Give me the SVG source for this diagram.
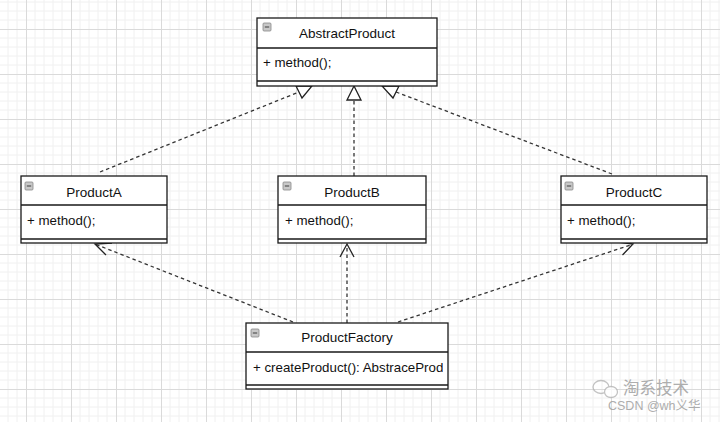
<svg xmlns="http://www.w3.org/2000/svg" width="720" height="422" viewBox="0 0 720 422">
<defs>
<pattern id="grid" x="26" y="29" width="45" height="45" patternUnits="userSpaceOnUse">
<path d="M9 0V45M18 0V45M27 0V45M36 0V45M0 9H45M0 18H45M0 27H45M0 36H45" stroke="#f0f0f0" stroke-width="1" fill="none"/>
<path d="M0.5 0V45M0 0.5H45" stroke="#dadada" stroke-width="1" fill="none"/>
</pattern>
<clipPath id="clipF"><rect x="247" y="352" width="196" height="33"/></clipPath>
<g id="minus">
<rect x="0" y="0" width="8" height="8" rx="1" fill="#c8c8c8" stroke="#888" stroke-width="0.8"/>
<path d="M1.8 4H6.2" stroke="#555" stroke-width="1.2"/>
</g>
</defs>
<style>
.box{fill:#fff;stroke:#1a1a1a;stroke-width:1.3}
.sep{stroke:#1a1a1a;stroke-width:1.3;fill:none}
.title{font-family:"Liberation Sans",Arial,sans-serif;font-size:13.5px;fill:#111;text-anchor:middle}
.attr{font-family:"Liberation Sans",Arial,sans-serif;font-size:13.3px;fill:#111}
.dash{stroke:#333;stroke-width:1.3;stroke-dasharray:3.5 3;fill:none}
.head{stroke:#222;stroke-width:1.3;fill:none}
.tri{stroke:#222;stroke-width:1.3;fill:#fff}
.wm{font-family:"Liberation Sans","Noto Sans CJK SC",sans-serif;fill:#9a9a9a}
</style>
<rect width="720" height="422" fill="#fff"/>
<rect width="720" height="422" fill="url(#grid)"/>

<g id="connectors">
<line class="dash" x1="100" y1="172" x2="299" y2="92"/>
<polygon class="tri" points="312,86 296,86 302,98"/>
<line class="dash" x1="354" y1="176" x2="354" y2="100"/>
<polygon class="tri" points="354,86 347,100 361,100"/>
<line class="dash" x1="612" y1="174" x2="396" y2="92"/>
<polygon class="tri" points="382,86 399,86 393,98"/>
<line class="dash" x1="293" y1="322" x2="96" y2="244.5"/>
<polyline class="head" points="112,243 95,244 106,255"/>
<line class="dash" x1="347" y1="323" x2="347" y2="245"/>
<polyline class="head" points="340,257 347,244 354,257"/>
<line class="dash" x1="398" y1="322" x2="632" y2="244.5"/>
<polyline class="head" points="618,242 633,244 622.5,255"/>
</g>

<g id="AbstractProduct">
<rect class="box" x="257" y="18" width="180" height="68"/>
<path class="sep" d="M257 48H437M257 81H437"/>
<use href="#minus" x="263" y="23"/>
<text class="title" x="347" y="38">AbstractProduct</text>
<text class="attr" x="263" y="67">+ method();</text>
</g>

<g id="ProductA">
<rect class="box" x="21" y="176" width="146" height="67"/>
<path class="sep" d="M21 205H167M21 239H167"/>
<use href="#minus" x="25" y="182"/>
<text class="title" x="94" y="197">ProductA</text>
<text class="attr" x="27" y="225">+ method();</text>
</g>

<g id="ProductB">
<rect class="box" x="278" y="176" width="148" height="67"/>
<path class="sep" d="M278 205H426M278 239H426"/>
<use href="#minus" x="283" y="182"/>
<text class="title" x="352" y="197">ProductB</text>
<text class="attr" x="285" y="225">+ method();</text>
</g>

<g id="ProductC">
<rect class="box" x="561" y="176" width="146" height="67"/>
<path class="sep" d="M561 205H707M561 239H707"/>
<use href="#minus" x="565" y="182"/>
<text class="title" x="634" y="197">ProductC</text>
<text class="attr" x="567" y="225">+ method();</text>
</g>

<g id="ProductFactory">
<rect class="box" x="246" y="323" width="202" height="66"/>
<path class="sep" d="M246 352H448M246 385H448"/>
<use href="#minus" x="251" y="329"/>
<text class="title" x="347" y="342">ProductFactory</text>
<text class="attr" x="253" y="372" clip-path="url(#clipF)">+ createProduct(): AbstraceProduct</text>
</g>

<g id="watermark" opacity="0.8">
<ellipse cx="601" cy="387" rx="8" ry="6.5" fill="none" stroke="#b5b5b5" stroke-width="1.3"/>
<ellipse cx="611" cy="392" rx="6.5" ry="5.5" fill="#fff" stroke="#b5b5b5" stroke-width="1.3"/>
<text class="wm" x="623" y="394" font-size="16.5">淘系技术</text>
<text class="wm" x="608" y="410" font-size="12.5">CSDN @wh义华</text>
</g>
</svg>
